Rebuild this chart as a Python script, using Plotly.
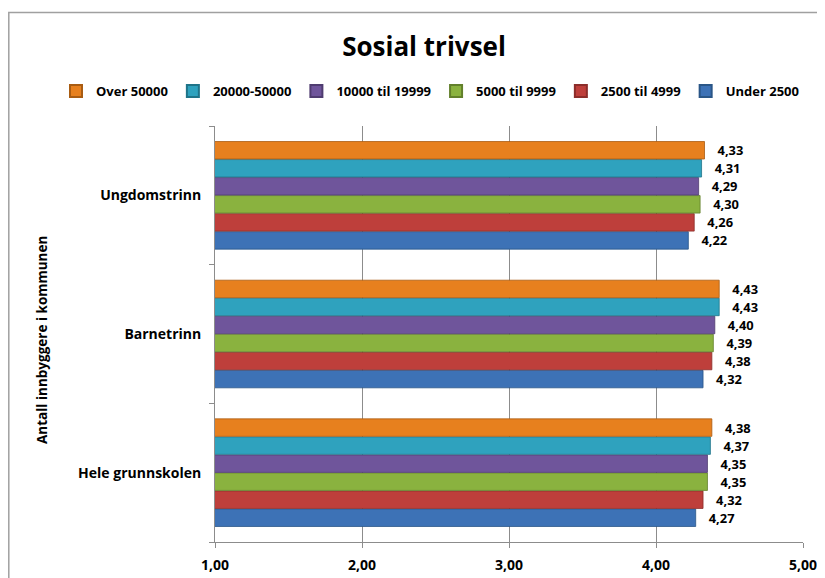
import plotly.graph_objects as go

categories = ["Hele grunnskolen", "Barnetrinn", "Ungdomstrinn"]
series_names = ["Under 2500", "2500 til 4999", "5000 til 9999", "10000 til 19999", "20000-50000", "Over 50000"]
under_2500 = [4.27, 4.32, 4.22]
s2500_4999 = [4.32, 4.38, 4.26]
s5000_9999 = [4.35, 4.39, 4.30]
s10000_19999 = [4.35, 4.40, 4.29]
s20000_50000 = [4.37, 4.43, 4.31]
over_50000 = [4.38, 4.43, 4.33]
series_values = [under_2500, s2500_4999, s5000_9999, s10000_19999, s20000_50000, over_50000]
colors = ["#3D72B6", "#BE3F3B", "#8AB23F", "#6F559B", "#2FA2BE", "#E7801E"]
line_colors = ["#2A5687", "#8C2D2A", "#62802B", "#4F3C70", "#1F7489", "#A95C12"]
tick_vals = [1, 2, 3, 4, 5]

FONT = "Open Sans"
OFF = 8  # page body margin
W, H = 825 - OFF, 578 - OFF
L = 215 - OFF
T = 126 - OFF
R = W - (803 - OFF)
B = H - (542 - OFF)
PW, PH = W - L - R, H - T - B

def px_x(px):
    return (px - OFF - L) / PW

def px_y(py):
    return (H - B - (py - OFF)) / PH

fig = go.Figure()
for name, vals, c, lc in zip(series_names, series_values, colors, line_colors):
    fig.add_trace(go.Bar(
        y=categories, x=vals, name=name, orientation="h",
        marker=dict(color=c, line=dict(color=lc, width=0.8)),
        texttemplate="\u00a0\u00a0\u00a0%{x:.2f}", textposition="outside",
        textfont=dict(family=FONT, size=14, color="#000000", weight="bold"),
        cliponaxis=False,
    ))

fig.update_layout(
    width=W, height=H,
    paper_bgcolor="white", plot_bgcolor="white",
    separators=", ",
    barmode="group", bargap=0.22, bargroupgap=0.03,
    margin=dict(l=L, r=R, t=T, b=B, autoexpand=False),
    title=dict(text="<b>Sosial trivsel</b>", x=(424 - OFF) / W, xanchor="center",
               y=1 - (47 - OFF) / H, yanchor="middle",
               font=dict(family=FONT, size=26, color="#000000")),
    legend=dict(orientation="h", traceorder="reversed", x=px_x(56), xanchor="left",
                y=px_y(91), yanchor="middle",
                font=dict(family=FONT, size=13, color="#000000", weight="bold"),
                itemwidth=30, tracegroupgap=0, itemsizing="constant"),
    showlegend=True,
    font=dict(family=FONT, color="#000000"),
)
fig.update_xaxes(
    range=[1, 5], tickvals=tick_vals, tickformat=".2f", automargin=False,
    showgrid=True, gridcolor="#8C8C8C", gridwidth=1,
    showline=True, linecolor="#8C8C8C", linewidth=1,
    ticks="outside", ticklen=5, tickcolor="#8C8C8C",
    tickfont=dict(family=FONT, size=14, color="#000000", weight="bold"),
    ticklabelstandoff=5,
    zeroline=False,
)
fig.update_yaxes(
    automargin=False,
    showline=True, linecolor="#8C8C8C", linewidth=1,
    ticks="outside", ticklen=5, tickcolor="#8C8C8C", tickson="boundaries",
    tickfont=dict(family=FONT, size=14, color="#000000", weight="bold"),
    ticklabelstandoff=10,
)
fig.add_annotation(text="<b>Antall innbyggere i kommunen</b>", xref="paper", yref="paper",
                   x=px_x(42), y=px_y(340), textangle=-90, showarrow=False,
                   xanchor="center", yanchor="middle",
                   font=dict(family=FONT, size=13.5, color="#000000"))
# chart border (top and left edges visible)
fig.add_shape(type="rect", xref="paper", yref="paper",
              x0=px_x(8.8), x1=px_x(840), y0=px_y(600), y1=px_y(12.5),
              line=dict(color="#A0A0A0", width=1.5), fillcolor="rgba(0,0,0,0)", layer="below")

fig.write_html("out.html")
